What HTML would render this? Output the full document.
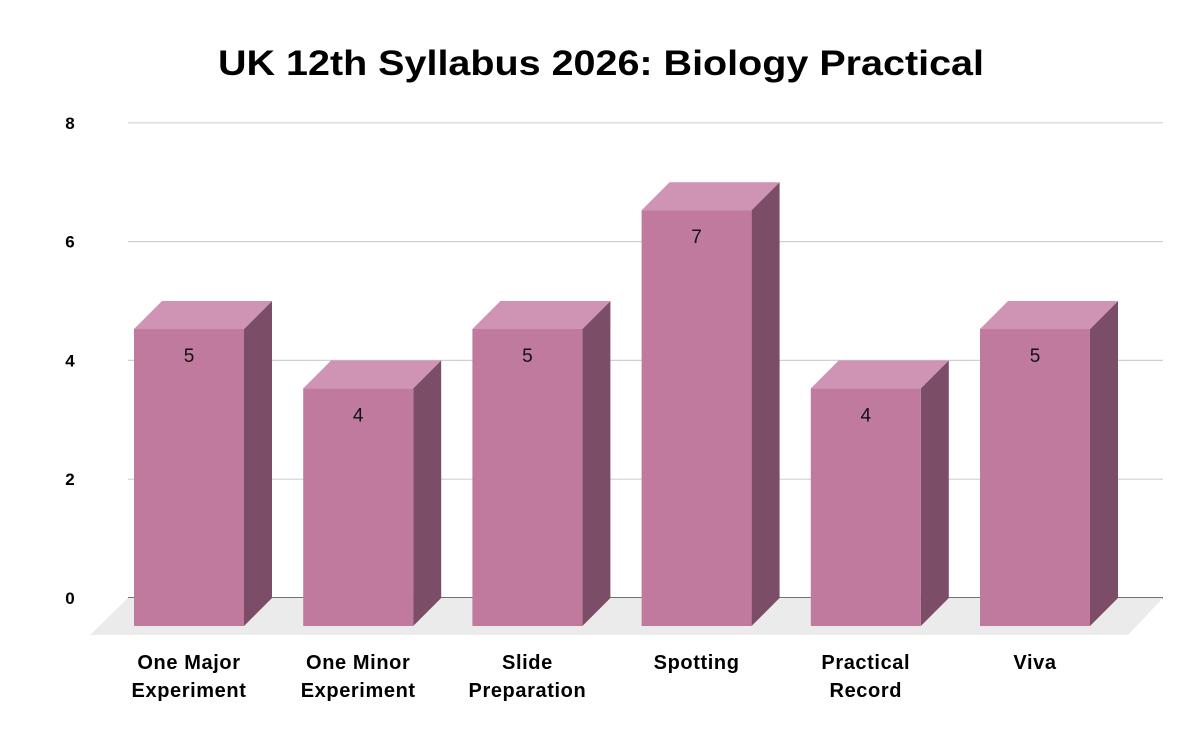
<!DOCTYPE html>
<html><head><meta charset="utf-8"><style>
body{margin:0;background:#fff;}
svg{display:block;font-family:"Liberation Sans",Arial,sans-serif;}
</style></head><body>
<svg id="chart" width="1200" height="740">
<text x="601" y="75" text-anchor="middle" font-size="35" font-weight="bold" fill="#000" textLength="766" lengthAdjust="spacingAndGlyphs">UK 12th Syllabus 2026: Biology Practical</text>
<g id="grid"></g><g id="floor"></g><g id="bars"></g><g id="xlabels"></g>
</svg>
<script>
const categories=[["One Major","Experiment"],["One Minor","Experiment"],["Slide","Preparation"],["Spotting"],["Practical","Record"],["Viva"]];
const values=[5,4,5,7,4,5];
const displayValues=["5","4","5","7","4","5"];
const yTicks=[0,2,4,6,8];
const NS="http://www.w3.org/2000/svg";
const y0=598,unit=59.4,dx=28,dy=28,bw=110,x0=134,step=169.2;
const Y=v=>y0-v*unit;
function mk(tag,attrs,parent){const e=document.createElementNS(NS,tag);for(const k in attrs)e.setAttribute(k,attrs[k]);parent.appendChild(e);return e;}
const grid=document.getElementById('grid');
yTicks.forEach(t=>{
  const l=mk('line',{x1:128,x2:1163,y1:Y(t),y2:Y(t),stroke:t===0?'#444':'#d0d0d0','stroke-width':t===0?1.5:1.2},grid);
  
  
  const tx=mk('text',{x:70,y:Y(t)+6,'text-anchor':'middle','font-size':17,'font-weight':'bold',fill:'#000'},grid);
  tx.textContent=t;
  
  
});
const fl=mk('polygon',{points:`128,${y0} 1163,${y0} 1128,635 90,635`,fill:'#ebebeb'},document.getElementById('floor'));


const bars=document.getElementById('bars'),xl=document.getElementById('xlabels');
values.forEach((v,i)=>{
  const x=x0+i*step, top=Y(v)+dy, bot=y0+dy;
  const g=mk('g',{},bars);
  
  
  mk('polygon',{points:`${x+bw},${top} ${x+bw+dx},${top-dy} ${x+bw+dx},${bot-dy} ${x+bw},${bot}`,fill:'#7c4d67'},g);
  mk('polygon',{points:`${x},${top} ${x+dx},${top-dy} ${x+bw+dx},${top-dy} ${x+bw},${top}`,fill:'#cf93b3'},g);
  mk('rect',{x:x,y:top,width:bw,height:bot-top,fill:'#c07a9e'},g);
  const vt=mk('text',{x:x+bw/2,y:top+33,'text-anchor':'middle','font-size':19,fill:'#111'},g);
  vt.textContent=displayValues[i];
  
  
  const lt=mk('text',{x:x+bw/2,'text-anchor':'middle','font-size':20,'font-weight':'bold','letter-spacing':0.6,fill:'#000'},xl);
  
  
  categories[i].forEach((s,j)=>{const ts=mk('tspan',{x:x+bw/2,y:669+j*28},lt);ts.textContent=s;});
});
</script>
</body></html>
